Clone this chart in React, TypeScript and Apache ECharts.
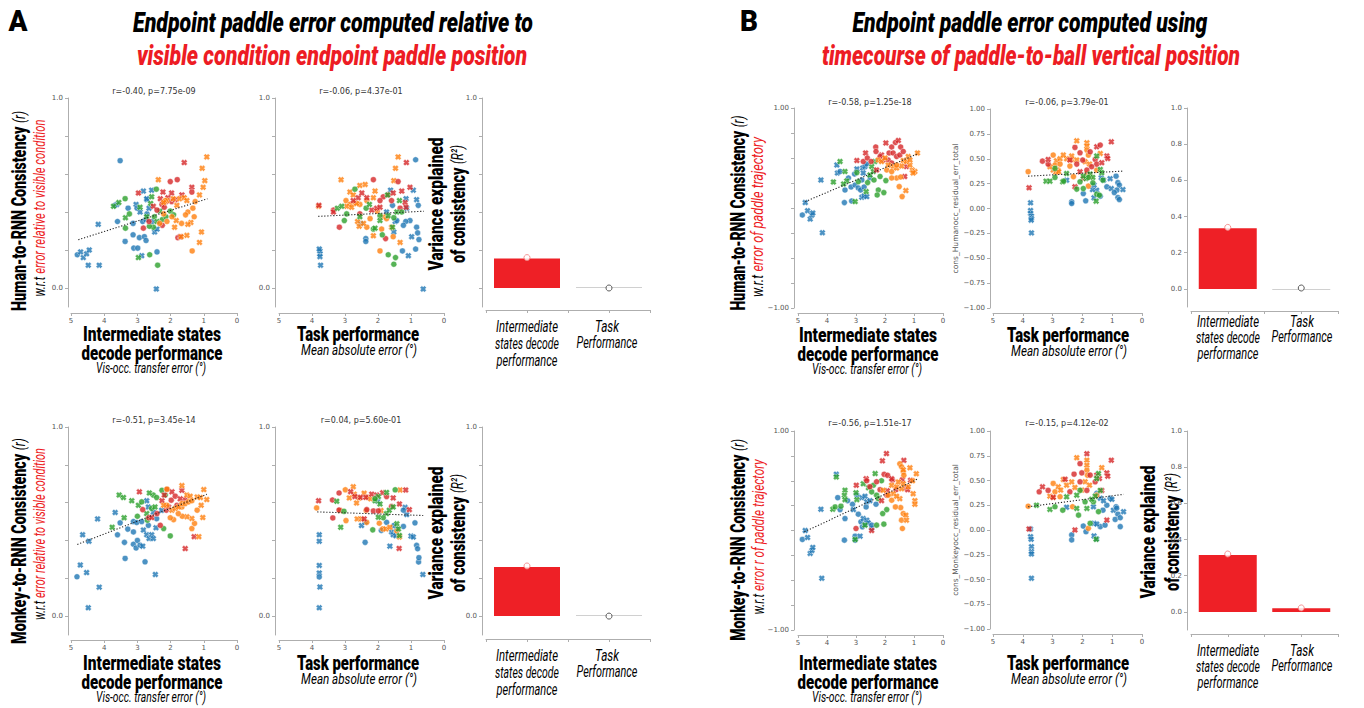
import React, { useEffect, useRef } from 'react';
import * as echarts from 'echarts';

type Pt = [number, number, number, number]; // x, y, colorIndex(0 blue,1 orange,2 green,3 red), marker(0 circle,1 X)

const COLORS = ['#1f77b4', '#ff7f0e', '#2ca02c', '#d62728'];
const X_SYMBOL = 'path://M0,3L3,0L5,2L7,0L10,3L8,5L10,7L7,10L5,8L3,10L0,7L2,5Z';

// ---------- A, row 1: Human, visible-endpoint error ----------
const A1_DECODE: Pt[] = [
  [3.52,0.67,0,0],[4.18,0.335,0,1],[4.81,0.175,0,0],[4.71,0.19,0,1],[4.63,0.16,0,1],[4.53,0.18,0,1],[4.45,0.20,0,1],[4.48,0.12,0,1],[4.15,0.12,0,1],[3.60,0.35,0,0],[3.37,0.245,0,0],[3.28,0.42,0,0],[3.13,0.34,0,0],[3.13,0.28,0,0],[3.11,0.21,0,0],[2.99,0.21,0,0],[2.87,0.17,0,1],[2.94,0.265,0,0],[2.79,0.27,0,0],[2.74,0.25,0,0],[2.71,0.465,0,1],[2.82,0.51,0,1],[2.57,0.515,0,1],[2.71,0.39,0,0],[2.43,-0.005,0,1],[2.41,0.19,0,0],[2.48,0.295,0,1],[2.84,0.35,0,0],[3.04,0.44,0,1],[3.01,0.42,0,0],[3.62,0.44,0,1],[3.67,0.435,0,0],[2.92,0.40,0,1],[2.65,0.42,0,1],[2.74,0.36,0,1],[2.55,0.35,0,0],[2.41,0.31,0,1],[2.72,0.47,0,1],
  [3.72,0.43,2,1],[3.37,0.47,2,0],[3.56,0.45,2,1],[3.36,0.315,2,0],[3.36,0.37,2,1],[2.97,0.16,2,1],[2.63,0.175,2,0],[2.39,0.12,2,0],[2.43,0.52,2,0],[2.57,0.48,2,1],[2.60,0.445,2,1],[2.52,0.32,2,0],[2.49,0.375,2,0],[2.25,0.36,2,0],[2.32,0.405,2,1],[2.01,0.405,2,0],[1.91,0.385,2,0],[2.72,0.375,2,1],[2.64,0.325,2,0],[2.92,0.425,2,1],[3.24,0.39,2,0],[2.41,0.35,2,1],[2.14,0.375,2,0],
  [2.97,0.50,3,1],[2.82,0.315,3,0],[2.65,0.35,3,0],[2.23,0.505,3,1],[2.01,0.56,3,0],[1.80,0.57,3,0],[1.97,0.50,3,1],[1.59,0.66,3,1],[1.36,0.53,3,1],[1.36,0.505,3,0],[1.78,0.265,3,0],[1.71,0.27,3,1],[2.26,0.44,3,0],[2.19,0.425,3,0],[2.13,0.455,3,0],[2.31,0.47,3,1],[2.08,0.475,3,1],[1.97,0.455,3,0],[1.86,0.465,3,1],[2.25,0.33,3,0],[2.52,0.43,3,1],[2.41,0.41,3,0],[1.66,0.49,3,1],
  [2.37,0.57,1,1],[0.91,0.69,1,1],[1.05,0.63,1,1],[0.97,0.565,1,1],[1.02,0.53,1,1],[1.13,0.49,1,1],[1.13,0.24,1,1],[1.07,0.295,1,1],[1.35,0.195,1,0],[1.51,0.277,1,1],[1.68,0.27,1,1],[1.33,0.42,1,0],[1.48,0.40,1,0],[1.29,0.375,1,0],[1.55,0.385,1,0],[1.39,0.345,1,1],[1.48,0.335,1,1],[1.67,0.34,1,0],[1.88,0.32,1,1],[1.81,0.435,1,1],[1.73,0.47,1,1],[1.59,0.475,1,1],[1.92,0.47,1,1],[2.11,0.46,1,1],[2.16,0.46,1,0],[2.33,0.34,1,0],[2.11,0.35,1,0],[2.21,0.39,1,0],[1.51,0.46,1,1],[1.26,0.455,1,0],[1.83,0.355,1,1],[1.96,0.375,1,0],[2.21,0.45,1,1],
];
const A1_TASK: Pt[] = [
  [3.76,0.18,0,1],[3.76,0.195,0,1],[3.76,0.165,0,1],[3.74,0.12,0,1],[3.78,0.205,0,1],[0.86,0.675,0,0],[0.93,0.515,0,1],[0.78,0.435,0,0],[0.83,0.465,0,1],[0.83,0.32,0,0],[0.80,0.29,0,0],[0.76,0.255,0,0],[0.86,0.205,0,0],[0.98,0.27,0,1],[1.08,0.17,0,1],[1.26,0.195,0,0],[1.03,0.355,0,0],[1.16,0.35,0,0],[1.23,0.33,0,0],[1.13,0.42,0,1],[1.15,0.47,0,1],[1.56,0.435,0,0],[1.62,0.515,0,1],[1.48,0.35,0,1],[1.52,0.295,0,1],[0.63,-0.005,0,1],[2.37,0.26,0,0],[2.37,0.245,0,0],[2.52,0.34,0,1],[1.74,0.40,0,1],[1.43,0.355,0,0],
  [3.80,0.43,1,1],[3.12,0.57,1,1],[2.97,0.46,1,0],[2.85,0.505,1,1],[2.75,0.49,1,1],[2.55,0.54,1,1],[2.39,0.545,1,1],[2.09,0.51,1,1],[1.39,0.69,1,1],[1.47,0.63,1,1],[1.52,0.565,1,1],[1.94,0.195,1,0],[1.33,0.24,1,1],[2.14,0.275,1,1],[2.34,0.32,1,0],[2.62,0.35,1,1],[2.57,0.325,1,1],[2.44,0.34,1,1],[2.85,0.44,1,0],[2.70,0.45,1,0],[2.55,0.44,1,0],[2.34,0.46,1,0],[2.95,0.43,1,1],[2.80,0.425,1,1],[2.65,0.445,1,1],[2.02,0.405,1,0],[1.84,0.375,1,1],[1.74,0.365,1,0],[1.59,0.32,1,1],[1.54,0.27,1,0],[1.89,0.31,1,0],[2.14,0.475,1,1],[2.24,0.365,1,0],
  [3.79,0.435,3,1],[3.35,0.41,3,0],[3.35,0.40,3,1],[3.17,0.32,3,0],[2.14,0.57,3,0],[1.14,0.66,3,1],[1.03,0.53,3,1],[1.39,0.56,3,0],[1.28,0.51,3,1],[1.77,0.26,3,0],[2.60,0.475,3,1],[2.49,0.50,3,1],[2.34,0.475,3,1],[2.55,0.39,3,0],[2.19,0.41,3,1],[2.04,0.42,3,1],[1.94,0.425,3,1],[1.84,0.48,3,0],[1.69,0.49,3,0],[1.54,0.50,3,1],[1.59,0.46,3,0],[1.18,0.45,3,1],[1.15,0.425,3,1],[1.33,0.42,3,0],[2.75,0.46,3,1],[1.94,0.46,3,0],
  [3.23,0.42,2,1],[3.10,0.43,2,1],[2.95,0.39,2,0],[3.02,0.355,2,0],[2.70,0.52,2,0],[2.55,0.375,2,1],[2.36,0.42,2,0],[2.26,0.44,2,1],[2.14,0.31,2,0],[2.09,0.315,2,1],[1.87,0.28,2,0],[1.69,0.175,2,0],[1.47,0.16,2,0],[1.52,0.125,2,0],[1.35,0.46,2,1],[1.71,0.49,2,1],[1.94,0.38,2,0],[1.69,0.38,2,1],[1.52,0.37,2,0],[1.43,0.40,2,1],[1.94,0.355,2,1],[1.56,0.32,2,1],[1.28,0.40,2,0],
];
// ---------- A, row 2: Monkey, visible-endpoint error ----------
const A2_DECODE: Pt[] = [
  [4.82,0.208,0,0],[4.72,0.27,0,1],[4.53,0.23,0,1],[4.15,0.153,0,1],[4.48,0.044,0,1],[4.65,0.43,0,1],[4.46,0.396,0,1],[4.20,0.514,0,1],[3.67,0.548,0,1],[3.60,0.43,0,0],[3.52,0.493,0,0],[3.37,0.305,0,0],[3.39,0.39,0,0],[3.29,0.46,0,0],[3.12,0.38,0,0],[3.12,0.50,0,0],[3.02,0.495,0,0],[3.00,0.40,0,0],[3.12,0.445,0,0],[3.04,0.36,0,0],[2.92,0.375,0,0],[2.84,0.37,0,1],[2.77,0.287,0,0],[2.46,0.22,0,1],[2.87,0.50,0,0],[2.82,0.455,0,1],[2.72,0.43,0,1],[2.65,0.41,0,1],[2.67,0.48,0,0],[2.57,0.43,0,1],[2.52,0.41,0,1],[2.72,0.61,0,1],[2.67,0.577,0,1],[2.52,0.55,0,1],[2.44,0.467,0,1],[2.42,0.515,0,0],[2.27,0.56,0,1],
  [3.55,0.64,2,1],[3.42,0.627,2,1],[3.40,0.52,2,1],[3.76,0.47,2,1],[3.17,0.61,2,1],[3.00,0.528,2,0],[2.97,0.586,2,1],[2.87,0.604,2,0],[2.72,0.542,2,1],[2.57,0.57,2,0],[2.52,0.64,2,0],[2.42,0.627,2,0],[2.26,0.665,2,0],[2.16,0.64,2,0],[2.01,0.424,2,0],[2.21,0.463,2,0],[2.47,0.577,2,1],[2.70,0.507,2,0],[2.64,0.651,2,1],
  [2.94,0.657,3,1],[2.84,0.563,3,0],[2.66,0.52,3,0],[2.57,0.521,3,1],[2.31,0.48,3,0],[2.41,0.542,3,0],[2.26,0.61,3,1],[2.19,0.64,3,1],[2.11,0.67,3,0],[1.96,0.657,3,1],[1.98,0.613,3,0],[1.86,0.634,3,0],[1.66,0.665,3,1],[1.56,0.616,3,0],[1.56,0.357,3,1],[1.29,0.42,3,1],[2.13,0.56,3,0],[2.06,0.577,3,1],[1.81,0.586,3,0],[1.71,0.62,3,1],
  [2.11,0.671,1,0],[1.66,0.69,1,1],[1.66,0.577,1,0],[1.51,0.64,1,1],[1.41,0.634,1,1],[1.00,0.669,1,1],[0.91,0.616,1,1],[1.08,0.586,1,1],[1.03,0.521,1,1],[1.15,0.42,1,1],[1.36,0.463,1,0],[1.28,0.49,1,0],[1.36,0.516,1,1],[1.51,0.525,1,1],[1.65,0.528,1,0],[1.77,0.542,1,0],[1.91,0.51,1,0],[2.01,0.52,1,0],[1.96,0.56,1,1],[1.86,0.569,1,1],[1.76,0.577,1,1],[1.66,0.595,1,0],[1.56,0.595,1,0],[1.46,0.604,1,0],[1.36,0.61,1,0],[1.20,0.63,1,1],[1.10,0.627,1,1],[1.20,0.56,1,0],[2.11,0.586,1,0],[2.21,0.586,1,1],
];
const A2_TASK: Pt[] = [
  [3.78,0.43,0,1],[3.78,0.396,0,1],[3.78,0.268,0,1],[3.78,0.228,0,1],[3.78,0.207,0,0],[3.76,0.154,0,1],[3.78,0.044,0,1],[0.64,0.22,0,1],[0.88,0.493,0,0],[0.83,0.374,0,0],[0.80,0.356,0,0],[0.77,0.286,0,0],[0.76,0.309,0,0],[1.00,0.423,0,1],[0.93,0.418,0,1],[1.23,0.474,0,0],[1.13,0.537,0,1],[1.18,0.575,0,1],[1.43,0.461,0,0],[1.52,0.479,0,0],[1.59,0.445,0,1],[1.54,0.43,0,1],[1.46,0.425,0,1],[1.90,0.453,0,0],[1.64,0.37,0,1],[2.39,0.39,0,0],[2.50,0.479,0,1],[2.39,0.496,0,1],[1.74,0.496,0,0],[2.01,0.607,0,1],[1.23,0.56,0,0],
  [3.86,0.572,1,0],[3.15,0.558,1,1],[2.99,0.668,1,0],[2.75,0.684,1,1],[2.97,0.505,1,0],[2.87,0.625,1,1],[2.72,0.645,1,1],[2.65,0.598,1,1],[2.57,0.625,1,1],[2.42,0.65,1,1],[2.32,0.628,1,1],[2.22,0.62,1,1],[2.36,0.558,1,0],[2.63,0.514,1,1],[2.50,0.514,1,1],[2.34,0.496,1,0],[1.86,0.461,1,0],[1.96,0.491,1,0],[1.76,0.461,1,1],[1.64,0.47,1,1],[1.33,0.667,1,1],[1.35,0.418,1,1],[1.43,0.45,1,0],[1.91,0.558,1,1],
  [3.80,0.61,3,1],[3.38,0.614,3,0],[3.18,0.651,3,0],[3.18,0.561,3,0],[3.37,0.519,3,0],[2.83,0.658,3,1],[2.70,0.632,3,1],[2.53,0.628,3,1],[2.37,0.628,3,1],[2.19,0.645,3,1],[2.04,0.64,3,1],[1.86,0.652,3,1],[2.34,0.563,3,0],[2.14,0.556,3,0],[1.99,0.556,3,0],[2.42,0.514,3,1],[1.59,0.58,3,0],[1.35,0.593,3,1],[1.16,0.667,3,1],[1.05,0.563,3,1],[1.36,0.358,3,1],[1.74,0.632,3,0],[1.54,0.625,3,1],
  [3.25,0.607,2,1],[3.13,0.47,2,1],[3.03,0.554,2,0],[2.16,0.456,2,0],[1.48,0.668,2,0],[1.74,0.654,2,1],[1.99,0.632,2,1],[2.09,0.61,2,1],[1.94,0.593,2,1],[2.09,0.621,2,0],[1.74,0.542,2,1],[1.66,0.56,2,1],[1.54,0.577,2,1],[1.43,0.488,2,1],[1.38,0.461,2,1],[1.35,0.426,2,1],[1.84,0.52,2,0],[1.99,0.523,2,1],
];
// ---------- B, row 1: Human, trajectory error ----------
const B1_DECODE: Pt[] = [
  [4.85,-0.07,0,0],[4.75,0.054,0,1],[4.67,-0.027,0,1],[4.58,-0.11,0,1],[4.52,-0.07,0,1],[4.49,-0.05,0,1],[4.16,-0.247,0,1],[4.21,0.28,0,1],[3.66,0.43,0,1],[3.64,0.35,0,1],[3.55,0.365,0,0],[3.38,0.18,0,0],[3.40,0.054,0,0],[3.26,0.30,0,0],[3.17,0.21,0,0],[3.03,0.23,0,0],[2.92,0.20,0,0],[3.05,0.34,0,0],[2.97,0.39,0,1],[2.80,0.28,0,0],[2.84,0.18,0,0],[2.80,0.107,0,1],[2.72,0.12,0,1],[2.63,0.114,0,1],[3.15,0.07,0,0],[2.77,0.40,0,1],[2.69,0.415,0,1],[2.63,0.44,0,0],[2.75,0.35,0,1],[2.52,0.30,0,1],[2.72,0.21,0,0],
  [3.55,0.465,2,1],[3.38,0.365,2,1],[3.78,0.26,2,1],[3.32,0.27,2,1],[3.43,0.24,2,1],[2.97,0.354,2,0],[3.03,0.064,2,1],[2.92,0.264,2,0],[2.65,0.164,2,1],[2.52,0.33,2,1],[2.38,0.28,2,0],[2.35,0.465,2,1],[2.23,0.18,2,0],[2.04,0.154,2,0],[1.97,0.274,2,0],[2.27,0.13,2,0],[2.46,0.415,2,1],[2.40,0.365,2,1],[2.17,0.315,2,0],[2.60,0.254,2,0],
  [2.97,0.475,3,1],[2.67,0.55,3,1],[2.75,0.465,3,0],[2.61,0.50,3,0],[2.32,0.61,3,0],[2.31,0.565,3,0],[1.97,0.65,3,1],[1.77,0.61,3,0],[1.64,0.655,3,0],[1.46,0.61,3,0],[1.54,0.675,3,1],[1.86,0.55,3,0],[1.72,0.55,3,0],[1.60,0.515,3,0],[1.49,0.53,3,0],[2.12,0.53,3,1],[2.06,0.48,3,1],[1.32,0.315,3,1],[1.89,0.48,3,0],[1.77,0.45,3,0],[1.37,0.565,3,0],[1.26,0.415,3,1],[2.17,0.515,3,0],[2.29,0.38,3,1],[2.48,0.465,3,0],
  [0.88,0.55,1,1],[1.06,0.38,1,1],[0.97,0.364,1,1],[1.03,0.35,1,1],[1.14,0.43,1,1],[1.60,0.30,1,0],[1.46,0.31,1,0],[1.51,0.214,1,0],[1.41,0.114,1,0],[1.28,0.174,1,1],[1.77,0.30,1,0],[1.37,0.475,1,1],[1.20,0.515,1,1],[1.26,0.465,1,1],[1.72,0.415,1,1],[1.60,0.40,1,1],[1.43,0.42,1,1],[1.94,0.38,1,0],[1.77,0.364,1,0],[2.23,0.48,1,1],[2.12,0.465,1,1],[2.00,0.50,1,1],[1.89,0.43,1,1],[1.60,0.43,1,0],[1.14,0.48,1,1],
];
const B1_TASK: Pt[] = [
  [3.74,0.057,0,1],[3.74,-0.02,0,1],[3.74,-0.05,0,1],[3.71,-0.077,0,1],[3.71,-0.10,0,1],[3.72,-0.117,0,1],[3.71,-0.245,0,1],[2.36,0.067,0,0],[2.36,0.05,0,0],[1.89,0.077,0,0],[1.97,0.15,0,0],[1.61,0.107,0,1],[1.40,0.124,0,0],[1.52,0.184,0,1],[1.18,0.218,0,0],[1.07,0.30,0,1],[0.87,0.325,0,0],[1.03,0.20,0,1],[0.81,0.26,0,0],[0.76,0.235,0,0],[0.84,0.185,0,0],[0.64,0.19,0,1],[0.93,0.16,0,0],[0.81,0.11,0,0],[0.76,0.09,0,0],[1.66,0.19,0,1],[1.61,0.235,0,1],[2.53,0.285,0,1],[1.37,0.31,0,1],[1.29,0.285,0,1],
  [3.82,0.37,1,0],[2.98,0.537,1,0],[2.87,0.48,1,1],[2.75,0.50,1,1],[2.53,0.50,1,1],[2.36,0.49,1,1],[2.19,0.487,1,1],[2.64,0.537,1,1],[2.36,0.527,1,1],[2.92,0.436,1,0],[2.75,0.446,1,0],[2.42,0.426,1,0],[2.19,0.68,1,1],[1.85,0.66,1,1],[1.85,0.627,1,1],[1.85,0.587,1,0],[1.80,0.537,1,0],[1.91,0.47,1,1],[1.76,0.446,1,1],[1.40,0.553,1,1],[1.52,0.386,1,0],[1.85,0.352,1,1],[1.74,0.32,1,1],[1.80,0.225,1,0],[2.81,0.386,1,0],[2.30,0.32,1,0],[2.98,0.386,1,1],[3.09,0.42,1,1],[2.89,0.365,1,1],[2.80,0.37,1,1],
  [3.79,0.208,3,1],[3.34,0.476,3,0],[3.15,0.446,3,0],[3.15,0.493,3,1],[2.25,0.614,3,0],[2.08,0.56,3,0],[1.99,0.487,3,0],[1.74,0.57,3,0],[1.52,0.62,3,1],[1.40,0.637,3,0],[1.03,0.67,3,1],[1.57,0.493,3,0],[1.52,0.446,3,0],[1.35,0.46,3,1],[1.18,0.527,3,1],[1.15,0.503,3,1],[2.19,0.446,3,0],[2.25,0.218,3,1],[1.85,0.386,3,0],[2.08,0.369,3,1],[1.97,0.302,3,1],[1.69,0.42,3,0],[2.42,0.487,3,1],
  [3.22,0.275,2,1],[3.09,0.275,2,1],[2.92,0.312,2,0],[2.92,0.403,2,0],[2.66,0.268,2,1],[2.63,0.275,2,0],[2.53,0.352,2,1],[2.19,0.195,2,0],[1.97,0.20,2,0],[2.08,0.268,2,0],[1.88,0.302,2,1],[1.74,0.346,2,1],[1.65,0.312,2,1],[1.65,0.258,2,0],[1.52,0.144,2,0],[1.43,0.134,2,0],[1.54,0.074,2,1],[1.31,0.285,2,0],[1.40,0.393,2,1],[1.35,0.359,2,1],[1.52,0.527,2,1],[1.80,0.312,2,0],[1.97,0.325,2,1],
];
// ---------- B, row 2: Monkey, trajectory error ----------
const B2_DECODE: Pt[] = [
  [4.85,-0.09,0,0],[4.75,0.0,0,1],[4.67,-0.07,0,1],[4.58,-0.23,0,1],[4.52,-0.20,0,1],[4.49,-0.17,0,1],[4.18,-0.48,0,1],[4.21,0.214,0,1],[3.68,0.565,0,1],[3.63,0.33,0,0],[3.55,0.21,0,0],[3.38,0.12,0,0],[3.40,-0.097,0,0],[3.29,0.30,0,0],[3.12,0.264,0,0],[3.09,0.21,0,1],[3.03,-0.057,0,0],[3.03,-0.097,0,0],[2.86,-0.057,0,1],[2.92,0.164,0,0],[2.83,0.087,0,0],[2.78,0.037,0,0],[2.69,0.06,0,0],[2.75,0.12,0,1],[2.63,0.104,0,1],[2.58,0.077,0,1],[2.46,0.02,0,0],[2.46,0.054,0,0],[2.65,0.237,0,0],[2.80,0.33,0,1],[2.69,0.344,0,1],[2.63,0.288,0,1],[2.52,0.30,0,1],[2.31,0.264,0,0],[2.97,0.355,0,0],
  [3.68,0.538,2,1],[3.38,0.405,2,1],[3.40,0.355,2,1],[3.38,0.31,2,1],[3.80,0.214,2,1],[3.72,0.237,2,0],[3.52,0.244,2,0],[3.00,0.38,2,1],[2.97,0.31,2,1],[3.03,-0.09,2,1],[2.69,0.054,2,1],[2.29,0.054,2,0],[2.04,0.064,2,0],[2.08,0.17,2,0],[1.94,0.21,2,0],[2.12,0.50,2,0],[2.34,0.572,2,1],[2.29,0.355,2,0],[2.23,0.32,2,0],[2.75,0.47,2,1],[2.57,0.43,2,1],[2.40,0.455,2,0],[2.46,0.388,2,0],
  [2.99,0.455,3,1],[3.00,0.02,3,0],[2.65,0.52,3,1],[2.63,0.50,3,0],[2.52,0.44,3,0],[2.29,0.49,3,0],[2.03,0.565,3,0],[1.91,0.555,3,0],[2.09,0.70,3,1],[1.95,0.773,3,1],[1.74,0.505,3,0],[1.77,0.52,3,1],[1.35,0.705,3,1],[1.40,0.51,3,1],[1.28,0.43,3,1],[1.22,0.41,3,1],[2.12,0.30,3,1],[1.92,0.40,3,1],[2.46,0.0,3,1],[2.17,0.41,3,0],[1.94,0.355,3,0],[1.12,0.505,3,1],[1.62,0.41,3,0],
  [1.49,0.67,1,0],[1.43,0.64,1,0],[1.37,0.59,1,0],[1.35,0.555,1,0],[1.37,0.61,1,1],[1.14,0.63,1,1],[0.92,0.57,1,1],[1.05,0.50,1,1],[1.03,0.37,1,1],[0.97,0.30,1,1],[0.97,0.264,1,1],[1.46,0.23,1,0],[1.37,0.17,1,0],[1.43,0.104,1,0],[1.40,0.02,1,0],[1.28,0.154,1,1],[1.26,0.104,1,1],[1.64,0.237,1,0],[1.49,0.32,1,1],[1.77,0.455,1,1],[1.60,0.438,1,1],[1.43,0.42,1,1],[1.20,0.44,1,1],[1.72,0.37,1,1],[1.60,0.344,1,1],[1.89,0.355,1,0],[2.06,0.405,1,1],[1.54,0.488,1,1],[1.37,0.47,1,1],[1.77,0.304,1,0],
];
const B2_TASK: Pt[] = [
  [3.74,0.01,0,1],[3.74,-0.067,0,1],[3.72,-0.094,0,1],[3.71,-0.168,0,1],[3.71,-0.218,0,1],[3.71,-0.242,0,1],[3.71,-0.487,0,1],[2.36,-0.05,0,0],[2.36,-0.10,0,0],[1.97,0.04,0,0],[1.88,-0.017,0,0],[1.61,-0.06,0,1],[1.52,-0.09,0,1],[1.40,0.034,0,0],[1.61,0.067,0,1],[1.52,0.06,0,1],[1.24,0.05,0,0],[1.31,0.20,0,0],[1.18,0.25,0,0],[1.07,0.32,0,0],[1.01,0.31,0,1],[0.96,0.20,0,1],[0.87,0.235,0,0],[0.85,0.22,0,0],[0.73,0.034,0,0],[0.62,0.185,0,1],[0.81,0.16,0,0],[0.90,0.107,0,0],[0.73,0.124,0,0],[2.53,0.23,0,1],[1.40,0.32,0,1],[1.29,0.295,0,1],[1.52,0.37,0,0],[1.63,0.235,0,1],
  [3.82,0.24,1,0],[2.98,0.47,1,0],[2.92,0.386,1,0],[2.81,0.436,1,1],[2.73,0.403,1,1],[2.53,0.453,1,1],[2.36,0.486,1,1],[2.25,0.43,1,1],[2.64,0.51,1,1],[2.19,0.73,1,1],[1.85,0.705,1,1],[1.85,0.654,1,1],[1.85,0.604,1,0],[1.83,0.554,1,0],[1.35,0.63,1,1],[1.52,0.352,1,0],[1.80,0.017,1,0],[2.33,0.235,1,0],[3.09,0.342,1,1],[2.98,0.33,1,1],[2.75,0.336,1,0],[1.91,0.487,1,1],[1.76,0.453,1,1],[2.02,0.403,1,1],
  [3.79,0.01,3,1],[3.45,0.386,3,0],[3.34,0.436,3,1],[3.15,0.40,3,0],[2.98,0.33,3,1],[2.58,0.513,3,1],[2.28,0.564,3,0],[2.08,0.67,3,0],[2.02,0.577,3,0],[1.74,0.554,3,0],[1.52,0.554,3,1],[1.43,0.52,3,1],[1.18,0.577,3,1],[1.15,0.544,3,1],[1.03,0.705,3,1],[1.85,0.77,3,1],[2.25,0.0,3,1],[1.18,0.10,3,1],[2.08,0.487,3,0],[1.85,0.40,3,0],[2.42,0.386,3,0],[1.35,0.40,3,1],[1.57,0.487,3,0],
  [3.09,0.208,2,1],[3.54,0.25,2,1],[2.92,0.235,2,0],[2.66,0.20,2,0],[2.53,0.335,2,1],[2.13,0.15,2,0],[1.91,0.285,2,0],[1.85,0.218,2,1],[1.74,0.067,2,0],[1.63,0.285,2,0],[1.54,-0.094,2,1],[1.46,0.57,2,1],[1.52,0.52,2,1],[1.40,0.40,2,1],[1.57,0.342,2,1],[1.69,0.31,2,1],[1.46,0.185,2,0],[2.08,0.40,2,0],[2.19,0.352,2,1],[2.19,0.218,2,1],
];

// regression (dotted) lines: [x, y] end points
const TREND_A1_DECODE = [[4.78, 0.254], [0.89, 0.47]];
const TREND_A1_TASK = [[3.81, 0.377], [0.61, 0.404]];
const TREND_A2_DECODE = [[4.81, 0.379], [0.91, 0.644]];
const TREND_A2_TASK = [[3.84, 0.551], [0.63, 0.532]];
const TREND_B1_DECODE = [[4.75, 0.064], [0.89, 0.54]];
const TREND_B1_TASK = [[3.82, 0.325], [0.62, 0.376]];
const TREND_B2_DECODE = [[4.78, -0.013], [0.89, 0.515]];
const TREND_B2_TASK = [[3.82, 0.235], [0.62, 0.36]];

const STATS = [
  'r=-0.40, p=7.75e-09', 'r=-0.06, p=4.37e-01', 'r=-0.51, p=3.45e-14', 'r=0.04, p=5.60e-01',
  'r=-0.58, p=1.25e-18', 'r=-0.06, p=3.79e-01', 'r=-0.56, p=1.51e-17', 'r=-0.15, p=4.12e-02',
];

// bar charts: [intermediate states decode, task performance]
const BAR_A1 = [0.155, 0];
const DOT_A1 = [0.16, 0];
const BAR_A2 = [0.26, 0];
const DOT_A2 = [0.265, 0];
const BAR_B1 = [0.335, 0];
const DOT_B1 = [0.34, 0.005];
const BAR_B2 = [0.315, 0.02];
const DOT_B2 = [0.32, 0.022];

const X_TICKS = [0, 1, 2, 3, 4, 5];
const Y_TICKS_A = [0, 0.2, 0.4, 0.6, 0.8, 1.0];
const Y_TICKS_B = [-1, -0.75, -0.5, -0.25, 0, 0.25, 0.5, 0.75, 1];
const BAR_TICKS = [-0.5, 0, 0.5, 1, 1.5];

const AX = '#aeaeae';
const LBL = '#555555';
const TICKF = 'DejaVu Sans';
const COND = 'Roboto';
const RED_TXT = '#ed1c24';
const BAR_RED = '#ee2026';
const HEAVY = 900;

const fmt1 = (v: number) => v.toFixed(1);
const fmt2 = (v: number) => (v < 0 ? '\u2212' : '') + Math.abs(v).toFixed(2);

type Part = { t: string; size: number; bold?: boolean; italic?: boolean; color?: string };

function makeLabel(parts: Part[], x: number, y: number, len: number, rot = 0) {
  const cv = document.createElement('canvas');
  const ctx = cv.getContext('2d') as CanvasRenderingContext2D;
  let total = 0;
  const rich: any = {};
  let text = '';
  parts.forEach((p, i) => {
    ctx.font = `${p.italic ? 'italic ' : ''}${p.bold ? HEAVY + ' ' : ''}${p.size}px ${COND}`;
    total += ctx.measureText(p.t).width;
    rich['p' + i] = {
      fontSize: p.size,
      fontWeight: p.bold ? HEAVY : 'normal',
      fontStyle: p.italic ? 'italic' : 'normal',
      fontFamily: COND,
      fill: p.color || '#000',
    };
    text += `{p${i}|${p.t}}`;
  });
  return {
    type: 'text',
    x,
    y,
    rotation: rot,
    scaleX: total > 0 ? len / total : 1,
    scaleY: 1,
    silent: true,
    style: { text, rich, align: 'center', verticalAlign: 'middle' },
  };
}

function plainText(t: string, x: number, y: number, size: number, color: string) {
  return {
    type: 'text',
    x,
    y,
    silent: true,
    style: { text: t, fontSize: size, fontFamily: TICKF, fill: color, align: 'center', verticalAlign: 'middle' },
  };
}

function buildOption() {
  const grid: any[] = [];
  const xAxis: any[] = [];
  const yAxis: any[] = [];
  const series: any[] = [];

  const axisLine = { show: true, onZero: false, lineStyle: { color: AX, width: 1 } };
  const tickStyle = { color: AX, width: 1 };

  const scatterPanels = [
    { data: A1_DECODE, trend: TREND_A1_DECODE, l: 71, r: 237, t: 98, b: 307, xo: 6, yo: 3, kind: 'a' },
    { data: A1_TASK, trend: TREND_A1_TASK, l: 279, r: 444, t: 98, b: 307, xo: 6, yo: 4, kind: 'a' },
    { data: A2_DECODE, trend: TREND_A2_DECODE, l: 71, r: 237, t: 427, b: 635, xo: 5, yo: 3, kind: 'a' },
    { data: A2_TASK, trend: TREND_A2_TASK, l: 279, r: 444, t: 427, b: 635, xo: 5, yo: 4, kind: 'a' },
    { data: B1_DECODE, trend: TREND_B1_DECODE, l: 798, r: 943, t: 108, b: 308, xo: 5, yo: 4, kind: 'b1' },
    { data: B1_TASK, trend: TREND_B1_TASK, l: 993, r: 1142, t: 109, b: 308, xo: 5, yo: 3, kind: 'b2', name: 'cons_Humanocc_residual_err_total' },
    { data: B2_DECODE, trend: TREND_B2_DECODE, l: 798, r: 943, t: 431, b: 630, xo: 5, yo: 4, kind: 'b1' },
    { data: B2_TASK, trend: TREND_B2_TASK, l: 993, r: 1142, t: 431, b: 629, xo: 5, yo: 3, kind: 'b2', name: 'cons_Monkeyocc_residual_err_total' },
  ];

  scatterPanels.forEach((p: any) => {
    const gi = grid.length;
    grid.push({ left: p.l, top: p.t, width: p.r - p.l, height: p.b - p.t });
    xAxis.push({
      gridIndex: gi, type: 'value', min: 0, max: 5, interval: 1, inverse: true, offset: p.xo,
      axisLine, axisTick: { show: true, length: 3, lineStyle: tickStyle, customValues: X_TICKS },
      axisLabel: { fontSize: 7, color: LBL, margin: 4, fontFamily: TICKF, customValues: X_TICKS },
      splitLine: { show: false },
    });
    const isA = p.kind === 'a';
    yAxis.push({
      gridIndex: gi, type: 'value', min: isA ? -0.1 : -1, max: 1, offset: p.yo,
      axisLine, axisTick: { show: true, length: 3, lineStyle: tickStyle, customValues: isA ? Y_TICKS_A : Y_TICKS_B },
      axisLabel: {
        fontSize: 7, color: LBL, margin: 5, fontFamily: TICKF,
        customValues: isA ? [0, 1] : p.kind === 'b1' ? [-1, 1] : Y_TICKS_B,
        formatter: isA ? fmt1 : fmt2,
      },
      splitLine: { show: false },
      name: p.name || '', nameLocation: 'middle', nameGap: 29,
      nameTextStyle: { fontSize: 7.5, color: LBL, fontFamily: TICKF },
    });
    series.push({
      type: 'scatter', xAxisIndex: gi, yAxisIndex: gi, symbolSize: 6,
      itemStyle: { borderColor: '#ffffff', borderWidth: 0.5 },
      data: p.data.map((d: Pt) => ({
        value: [d[0], d[1]],
        symbol: d[3] ? X_SYMBOL : 'circle',
        symbolSize: d[3] ? 6.5 : 6,
        itemStyle: { color: COLORS[d[2]] },
      })),
      z: 2,
    });
    series.push({
      type: 'line', xAxisIndex: gi, yAxisIndex: gi, data: p.trend, symbol: 'none',
      lineStyle: { color: '#222', width: 1.1, type: [1.2, 1.8] }, z: 3, silent: true,
    });
  });

  const barPanels = [
    { vals: BAR_A1, dots: DOT_A1, l: 486, r: 650, t: 98, b: 307, xo: 3, yo: 4, bw: 66, labels: [1], fmt: fmt1 },
    { vals: BAR_A2, dots: DOT_A2, l: 486, r: 650, t: 427, b: 635, xo: 4, yo: 4, bw: 66, labels: [0, 1], fmt: fmt1 },
    { vals: BAR_B1, dots: DOT_B1, l: 1191, r: 1338, t: 108, b: 307, xo: 4, yo: 4, bw: 58, labels: Y_TICKS_A, fmt: fmt1 },
    { vals: BAR_B2, dots: DOT_B2, l: 1191, r: 1338, t: 431, b: 630, xo: 4, yo: 4, bw: 58, labels: Y_TICKS_A, fmt: fmt1 },
  ];
  barPanels.forEach((p) => {
    const gi = grid.length;
    grid.push({ left: p.l, top: p.t, width: p.r - p.l, height: p.b - p.t });
    xAxis.push({
      gridIndex: gi, type: 'value', min: -0.5, max: 1.5, interval: 0.5, offset: p.xo,
      axisLine, axisTick: { show: true, length: 3, lineStyle: tickStyle, customValues: BAR_TICKS },
      axisLabel: { show: false }, splitLine: { show: false },
    });
    yAxis.push({
      gridIndex: gi, type: 'value', min: -0.1, max: 1, offset: p.yo,
      axisLine, axisTick: { show: true, length: 3, lineStyle: tickStyle, customValues: Y_TICKS_A },
      axisLabel: { fontSize: 7, color: LBL, margin: 5, fontFamily: TICKF, customValues: p.labels, formatter: p.fmt },
      splitLine: { show: false },
    });
    series.push({
      type: 'bar', xAxisIndex: gi, yAxisIndex: gi, barWidth: p.bw, barMinHeight: 1,
      data: p.vals.map((v, i) => ({ value: [i, v], itemStyle: { color: v > 0 ? BAR_RED : '#d0d0d0' } })),
      z: 2,
    });
    series.push({
      type: 'scatter', xAxisIndex: gi, yAxisIndex: gi, symbol: 'circle', symbolSize: 6,
      data: p.dots.map((v, i) => ({
        value: [i, v],
        itemStyle: { color: '#ffffff', borderColor: p.vals[i] > 0 ? '#f27b7b' : '#333333', borderWidth: 1 },
      })),
      z: 4,
    });
  });

  // ---------- texts ----------
  const R = Math.PI / 2;
  const els: any[] = [];
  const statPos = [[154, 91], [361, 91], [154, 420], [361, 420], [870, 102], [1067, 102], [870, 423], [1067, 423]];
  STATS.forEach((s, i) => els.push(plainText(s, statPos[i][0], statPos[i][1], 8, '#333')));

  els.push(makeLabel([{ t: 'A', size: 30, bold: true }], 18, 21, 19));
  els.push(makeLabel([{ t: 'B', size: 30, bold: true }], 749, 21, 18));
  els.push(makeLabel([{ t: 'Endpoint paddle error computed relative to', size: 28, bold: true, italic: true }], 333, 22, 400));
  els.push(makeLabel([{ t: 'visible condition endpoint paddle position', size: 28, bold: true, italic: true, color: RED_TXT }], 332, 55, 390));
  els.push(makeLabel([{ t: 'Endpoint paddle error computed using', size: 28, bold: true, italic: true }], 1030, 22, 355));
  els.push(makeLabel([{ t: 'timecourse of paddle-to-ball vertical position', size: 28, bold: true, italic: true, color: RED_TXT }], 1031, 55, 418));

  const yMain = (who: string): Part[] => [
    { t: who + '-to-RNN Consistency ', size: 20, bold: true },
    { t: '(r)', size: 17, italic: true },
  ];
  const ySub = (s: string): Part[] => [
    { t: 'w.r.t ', size: 16, italic: true },
    { t: s, size: 16, italic: true, color: RED_TXT },
  ];
  els.push(makeLabel(yMain('Human'), 19, 211, 200, R));
  els.push(makeLabel(ySub('error relative to visible condition'), 39, 208, 177, R));
  els.push(makeLabel(yMain('Monkey'), 19, 541, 206, R));
  els.push(makeLabel(ySub('error relative to visible condition'), 39, 534, 172, R));
  els.push(makeLabel(yMain('Human'), 738, 213, 195, R));
  els.push(makeLabel(ySub('error of paddle trajectory'), 758, 217, 160, R));
  els.push(makeLabel(yMain('Monkey'), 738, 540, 202, R));
  els.push(makeLabel(ySub('error r of paddle trajectory'), 758, 537, 155, R));

  const decodeTitle = (cx: number, y0: number) => {
    els.push(makeLabel([{ t: 'Intermediate states', size: 20, bold: true }], cx, y0, 138));
    els.push(makeLabel([{ t: 'decode performance', size: 20, bold: true }], cx, y0 + 19, 141));
    els.push(makeLabel([{ t: 'Vis-occ. transfer error (\u00b0)', size: 14, italic: true }], cx - 1, y0 + 34, 110));
  };
  const taskTitle = (cx: number, y0: number) => {
    els.push(makeLabel([{ t: 'Task performance', size: 20, bold: true }], cx, y0, 122));
    els.push(makeLabel([{ t: 'Mean absolute error (\u00b0)', size: 14, italic: true }], cx + 1, y0 + 16, 116));
  };
  decodeTitle(152, 334);
  decodeTitle(152, 663);
  decodeTitle(868, 335);
  decodeTitle(868, 663);
  taskTitle(358, 334);
  taskTitle(358, 663);
  taskTitle(1068, 335);
  taskTitle(1068, 663);

  const barLabels = (c1: number, c2: number, y0: number, dy: number) => {
    els.push(makeLabel([{ t: 'Intermediate', size: 16, italic: true }], c1, y0, 62));
    els.push(makeLabel([{ t: 'states decode', size: 16, italic: true }], c1, y0 + dy, 64));
    els.push(makeLabel([{ t: 'performance', size: 16, italic: true }], c1, y0 + 2 * dy, 61));
    els.push(makeLabel([{ t: 'Task', size: 16, italic: true }], c2, y0, 24));
    els.push(makeLabel([{ t: 'Performance', size: 16, italic: true }], c2, y0 + dy - 1, 61));
  };
  barLabels(527, 607, 326, 17);
  barLabels(527, 607, 655, 17);
  barLabels(1228, 1302, 321, 16);
  barLabels(1228, 1302, 650, 16);

  const variance = (x1: number, x2: number, cy: number) => {
    els.push(makeLabel([{ t: 'Variance explained', size: 21, bold: true }], x1, cy, 133, R));
    els.push(makeLabel([
      { t: 'of consistency ', size: 21, bold: true },
      { t: '(R\u00b2)', size: 17, italic: true },
    ], x2, cy, 118, R));
  };
  variance(436, 457, 204);
  variance(436, 457, 533);
  variance(1148, 1171, 532);

  return {
    animation: false,
    backgroundColor: '#ffffff',
    grid,
    xAxis,
    yAxis,
    series,
    graphic: { elements: els },
  };
}

export default function App() {
  const ref = useRef<HTMLDivElement>(null);
  useEffect(() => {
    if (!ref.current) return;
    const chart = echarts.init(ref.current, undefined, { renderer: 'svg' });
    chart.setOption(buildOption() as any);
    return () => chart.dispose();
  }, []);
  return (
    <div
      ref={ref}
      style={{ position: 'fixed', left: 0, top: 0, width: 1364, height: 708, background: '#fff' }}
    />
  );
}
